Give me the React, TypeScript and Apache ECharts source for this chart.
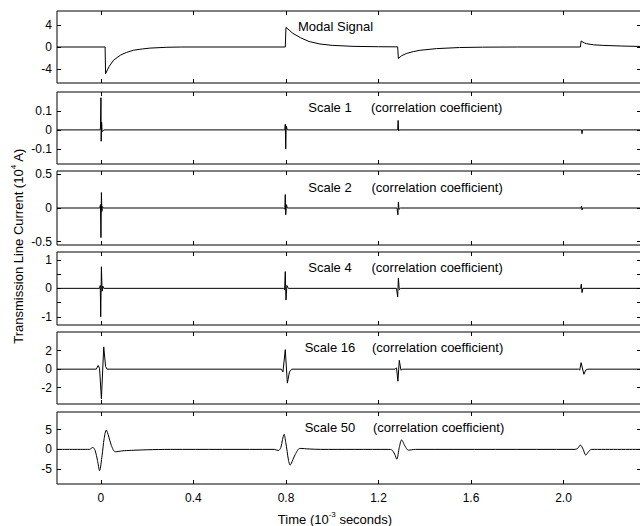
import React, { useEffect, useRef } from "react";
import * as echarts from "echarts";

// ---------- data ----------
const xMin = -0.19;
const xMax = 2.335;
const xTickValues = [0, 0.4, 0.8, 1.2, 1.6, 2.0];
const xTickLabels = ["0", "0.4", "0.8", "1.2", "1.6", "2.0"];

const panelTitles = ["Modal Signal", "Scale 1", "Scale 2", "Scale 4", "Scale 16", "Scale 50"];
const panelNotes = ["", "(correlation coefficient)", "(correlation coefficient)", "(correlation coefficient)", "(correlation coefficient)", "(correlation coefficient)"];

const yLimits: [number, number][] = [[-6.6, 6.6], [-0.18, 0.2], [-0.55, 0.55], [-1.29, 1.28], [-3.75, 4], [-8.8, 9.5]];
const yTickValues = [[-4, 0, 4], [-0.1, 0, 0.1], [-0.5, 0, 0.5], [-1, -0.5, 0, 0.5, 1], [-2, 0, 2], [-5, 0, 5]];
const yLabelValues = [[-4, 0, 4], [-0.1, 0, 0.1], [-0.5, 0, 0.5], [-1, 0, 1], [-2, 0, 2], [-5, 0, 5]];

const modalSignal: [number, number][] = [
  [-0.19, 0], [0.018, 0], [0.02, -4.9], [0.035, -3.6], [0.055, -2.4], [0.084, -1.5], [0.11, -1.0],
  [0.14, -0.6], [0.18, -0.35], [0.213, -0.2], [0.285, -0.05], [0.35, 0], [0.797, 0], [0.8, 3.6],
  [0.83, 2.5], [0.863, 1.7], [0.9, 1.0], [0.947, 0.55], [1.0, 0.3], [1.09, 0.12], [1.2, 0.05],
  [1.283, 0.03], [1.286, -2.1], [1.3, -1.6], [1.32, -1.2], [1.35, -0.85], [1.38, -0.6], [1.45, -0.3],
  [1.55, -0.1], [1.65, -0.03], [1.8, 0], [2.073, 0], [2.076, 1.1], [2.09, 0.75], [2.1, 0.6],
  [2.13, 0.4], [2.17, 0.3], [2.25, 0.18], [2.335, 0.1],
];

const scale1: [number, number][] = [
  [-0.19, 0], [-0.004, 0], [-0.002, 0.01], [0, 0.17], [0.001, -0.06], [0.003, 0.04], [0.005, -0.01],
  [0.012, 0], [0.795, 0], [0.797, 0.03], [0.799, -0.1], [0.801, 0.02], [0.806, 0], [1.283, 0],
  [1.285, 0.05], [1.287, -0.005], [1.29, 0], [2.078, 0], [2.08, -0.02], [2.082, 0], [2.335, 0],
];

const scale2: [number, number][] = [
  [-0.19, 0], [-0.005, 0], [-0.002, 0.05], [0, -0.44], [0.002, 0.23], [0.004, -0.05], [0.006, 0.02],
  [0.01, 0], [0.79, 0], [0.795, -0.02], [0.797, 0.2], [0.799, -0.1], [0.802, 0.05], [0.806, 0],
  [1.28, 0], [1.284, -0.1], [1.286, 0.09], [1.289, -0.02], [1.295, 0], [2.076, 0], [2.078, 0.03],
  [2.08, -0.03], [2.083, 0], [2.335, 0],
];

const scale4: [number, number][] = [
  [-0.19, 0], [-0.006, 0], [-0.003, 0.1], [-0.001, -1.0], [0.002, 0.76], [0.005, -0.1], [0.008, 0.08],
  [0.012, 0], [0.79, 0], [0.794, -0.05], [0.797, 0.59], [0.8, -0.41], [0.804, 0.1], [0.81, 0],
  [1.278, 0], [1.283, -0.3], [1.286, 0.36], [1.29, -0.05], [1.296, 0], [2.074, 0], [2.077, 0.15],
  [2.08, -0.15], [2.084, 0], [2.335, 0],
];

const scale16: [number, number][] = [
  [-0.19, 0], [-0.02, 0], [-0.012, 0.4], [-0.006, 0.1], [0.002, -3.2], [0.012, 2.4], [0.02, 0.3],
  [0.026, 0], [0.78, 0], [0.787, -0.3], [0.797, 2.1], [0.806, -1.5], [0.815, -0.3], [0.825, 0],
  [1.272, 0], [1.278, 0.15], [1.284, -1.3], [1.29, 0.95], [1.297, -0.1], [1.305, 0], [2.065, 0],
  [2.07, -0.1], [2.076, 0.7], [2.088, -0.55], [2.096, -0.1], [2.105, 0], [2.335, 0],
];

const scale50: [number, number][] = [
  [-0.19, 0], [-0.05, 0], [-0.035, 0.5], [-0.025, -0.3], [-0.015, -2.8], [-0.006, -5.4], [0.005, -1.5],
  [0.014, 2.8], [0.023, 4.9], [0.033, 3.4], [0.045, 1.0], [0.062, -0.6], [0.09, -0.4], [0.112, -0.3],
  [0.2, -0.1], [0.3, 0], [0.75, 0], [0.767, -0.3], [0.778, 0.5], [0.785, 2.5], [0.792, 3.8],
  [0.799, 1.8], [0.805, -0.5], [0.811, -2.8], [0.818, -4.0], [0.83, -2.6], [0.84, -1.3], [0.86, 0.25],
  [0.9, 0.1], [0.95, 0], [1.245, 0], [1.257, -0.1], [1.27, -1.2], [1.279, -2.5], [1.29, 0.5],
  [1.3, 2.4], [1.315, 0.8], [1.329, -0.2], [1.36, 0], [2.05, 0], [2.062, 0.3], [2.073, 1.1],
  [2.085, 0], [2.096, -1.45], [2.108, -0.6], [2.12, 0], [2.335, 0],
];

const seriesData = [modalSignal, scale1, scale2, scale4, scale16, scale50];

// ---------- layout ----------
const FONT = "'Liberation Sans', Arial, sans-serif";
const gridTops = [11, 92, 171, 252, 332, 412];
const gridHeights = [72, 72, 74, 73, 72, 72];
const titleY = [26, 107, 187, 267, 347, 427];
const noteX = [0, 371, 371.5, 371.5, 372, 373];

function buildOption() {
  const grid: any[] = [];
  const xAxis: any[] = [];
  const yAxis: any[] = [];
  const series: any[] = [];
  const graphic: any[] = [];
  const hiddenLine = { show: false, onZero: false };

  for (let i = 0; i < 6; i++) {
    grid.push({
      left: 57,
      right: 3,
      top: gridTops[i],
      height: gridHeights[i],
      show: true,
      borderColor: "#000",
      borderWidth: 1,
      backgroundColor: "transparent",
    });
    const tickStyle = { show: true, inside: true, length: 4, customValues: xTickValues, lineStyle: { color: "#000", width: 1 } };
    xAxis.push({
      gridIndex: i,
      type: "value",
      min: xMin,
      max: xMax,
      position: "bottom",
      axisLine: hiddenLine,
      splitLine: { show: false },
      axisTick: tickStyle,
      axisLabel: {
        show: i === 5,
        customValues: xTickValues,
        formatter: (v: number) => {
          const k = xTickValues.findIndex((t) => Math.abs(t - v) < 1e-9);
          return k >= 0 ? xTickLabels[k] : "";
        },
        margin: 8,
        fontSize: 12,
        color: "#000",
        fontFamily: FONT,
      },
    });
    xAxis.push({
      gridIndex: i,
      type: "value",
      min: xMin,
      max: xMax,
      position: "top",
      axisLine: hiddenLine,
      splitLine: { show: false },
      axisTick: tickStyle,
      axisLabel: { show: false },
    });
    const yTick = { show: true, inside: true, length: 4, customValues: yTickValues[i], lineStyle: { color: "#000", width: 1 } };
    yAxis.push({
      gridIndex: i,
      type: "value",
      min: yLimits[i][0],
      max: yLimits[i][1],
      position: "left",
      axisLine: hiddenLine,
      splitLine: { show: false },
      axisTick: yTick,
      axisLabel: {
        customValues: yLabelValues[i],
        formatter: (v: number) => String(Math.round(v * 1000) / 1000),
        margin: 5,
        fontSize: 12,
        color: "#000",
        fontFamily: FONT,
      },
    });
    yAxis.push({
      gridIndex: i,
      type: "value",
      min: yLimits[i][0],
      max: yLimits[i][1],
      position: "right",
      axisLine: hiddenLine,
      splitLine: { show: false },
      axisTick: yTick,
      axisLabel: { show: false },
    });
    series.push({
      type: "line",
      xAxisIndex: 2 * i,
      yAxisIndex: 2 * i,
      data: seriesData[i],
      showSymbol: false,
      symbol: "none",
      smooth: i === 5 ? 0.3 : false,
      clip: true,
      silent: true,
      lineStyle: { color: "#000", width: 1 },
    });

    if (i === 0) {
      graphic.push({
        type: "text",
        x: 298,
        y: titleY[i],
        style: { text: panelTitles[i], font: `13px ${FONT}`, fill: "#000", align: "left", verticalAlign: "middle" },
      });
    } else {
      graphic.push({
        type: "text",
        x: 330,
        y: titleY[i],
        style: { text: panelTitles[i], font: `13px ${FONT}`, fill: "#000", align: "center", verticalAlign: "middle" },
      });
      graphic.push({
        type: "text",
        x: noteX[i],
        y: titleY[i],
        style: { text: panelNotes[i], font: `13px ${FONT}`, fill: "#000", align: "left", verticalAlign: "middle" },
      });
    }
  }

  graphic.push({
    type: "text",
    x: 335,
    y: 519,
    style: {
      text: "Time (10{sup|-3} seconds)",
      font: `13px ${FONT}`,
      fill: "#000",
      align: "center",
      verticalAlign: "middle",
      lineHeight: 18,
      rich: { sup: { fontSize: 8, fontFamily: FONT, fill: "#000", verticalAlign: "top", lineHeight: 8 } },
    },
  });
  graphic.push({
    type: "text",
    x: 18,
    y: 246,
    rotation: Math.PI / 2,
    style: {
      text: "Transmission Line Current (10{sup|4} A)",
      font: `13px ${FONT}`,
      fill: "#000",
      align: "center",
      verticalAlign: "middle",
      lineHeight: 18,
      rich: { sup: { fontSize: 8, fontFamily: FONT, fill: "#000", verticalAlign: "top", lineHeight: 8 } },
    },
  });

  return {
    animation: false,
    backgroundColor: "#fff",
    grid,
    xAxis,
    yAxis,
    series,
    graphic,
  };
}

export default function App() {
  const ref = useRef<HTMLDivElement>(null);
  useEffect(() => {
    if (!ref.current) return;
    const chart = echarts.init(ref.current, null, { renderer: "svg" });
    chart.setOption(buildOption() as any);
    return () => chart.dispose();
  }, []);
  return (
    <div style={{ position: "fixed", left: 0, top: 0, width: 640, height: 526, overflow: "hidden", background: "#fff" }}>
      <div ref={ref} style={{ width: 644, height: 526 }} />
    </div>
  );
}
